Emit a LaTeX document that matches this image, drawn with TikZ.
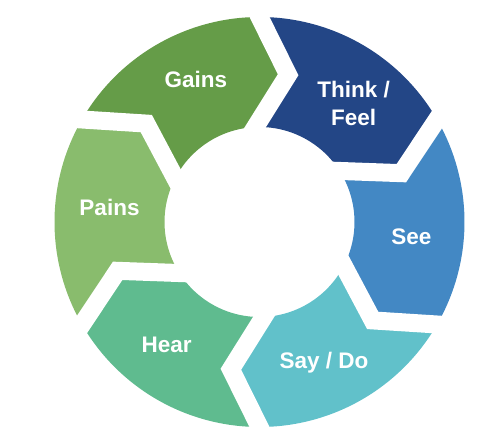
\documentclass[tikz,border=0pt]{standalone}
\usepackage{fontspec}
\setmainfont{Liberation Sans}
\usetikzlibrary{calc}
\definecolor{gains}{HTML}{659C48}
\definecolor{think}{HTML}{234686}
\definecolor{see}{HTML}{4388C4}
\definecolor{saydo}{HTML}{61C1CA}
\definecolor{hear}{HTML}{5FBB8F}
\definecolor{pains}{HTML}{89BC6D}
\begin{document}
\begin{tikzpicture}[x=1pt, y=1pt,
		seglabel/.style={text=white, font=\bfseries\fontsize{22.5}{28}\selectfont, anchor=base}]
		\useasboundingbox (-259.5, -224) rectangle (244.5, 222);
		% ring pieces, clockwise from the top left
		\foreach \a/\c in {150/gains, 90/think, 30/see, -30/saydo, -90/hear, -150/pains}
			\fill[\c] (\a:205) arc[start angle=\a, end angle=\a-60, radius=205]
				-- (\a-71:150) -- (\a-57.5:95)
				arc[start angle=\a-57.5, end angle=\a+2.5, radius=95]
				-- (\a-11:150) -- cycle;
		% white chevron gaps
		\foreach \a in {90, 30, ..., -210}
			\draw[white, line width=18]
				($(\a-11:150)!1.2!(\a:205)$) -- (\a-11:150) -- ($(\a-11:150)!1.2!(\a+2.5:95)$);
		\node[seglabel] (gains) at (-63.7, 134) {Gains};
		\node[seglabel, anchor=center, align=center] (think) at (94.2, 118.2) {Think /\\Feel};
		\node[seglabel] (see) at (151.8, -23) {See};
		\node[seglabel] (saydo) at (64.5, -146.3) {Say / Do};
		\node[seglabel] (hear) at (-92.8, -130.7) {Hear};
		\node[seglabel] (pains) at (-150, 6.3) {Pains};
	\end{tikzpicture}
\end{document}
